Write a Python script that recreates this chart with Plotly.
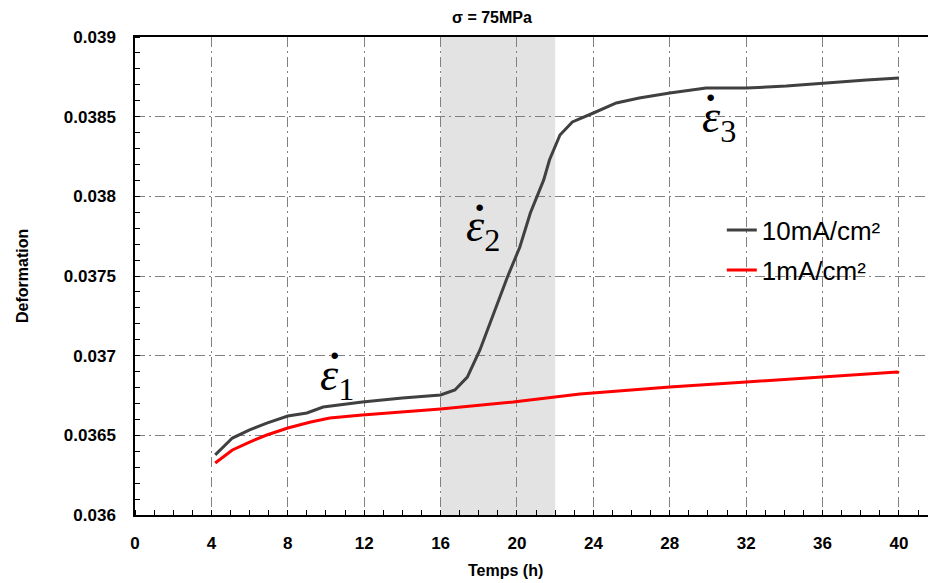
import plotly.graph_objects as go

# ---- data ----
t_10 = [4.2, 5.1, 6.0, 6.9, 8.0, 9.0, 9.85, 11.9, 14.0, 16.0, 16.75, 17.4, 18.06, 18.5,
        19.5, 20.15, 20.7, 21.4, 21.7, 22.25, 22.9, 24.0, 25.2, 26.4, 28.0, 29.9, 32.0,
        34.1, 36.0, 38.3, 40.0]
d_10 = [0.036377, 0.036483, 0.036534, 0.036577, 0.036621, 0.036640, 0.036678, 0.036709,
        0.036734, 0.036753, 0.036785, 0.036866, 0.037036, 0.037180, 0.037494, 0.037682,
        0.037895, 0.038103, 0.038228, 0.038385, 0.038467, 0.038523, 0.038586, 0.038617,
        0.038649, 0.038680, 0.038680, 0.038692, 0.038711, 0.038730, 0.038743]

t_1 = [4.2, 5.1, 6.0, 6.9, 8.0, 9.2, 10.2, 11.9, 16.0, 19.8, 23.3, 28.0, 32.0, 36.0, 39.9, 40.0]
d_1 = [0.036326, 0.036408, 0.036458, 0.036502, 0.036546, 0.036584, 0.036609, 0.036628,
       0.036665, 0.036709, 0.036759, 0.036803, 0.036835, 0.036866, 0.036898, 0.036892]

series_names = ["10mA/cm²", "1mA/cm²"]
x_ticks = [0, 4, 8, 12, 16, 20, 24, 28, 32, 36, 40]
x_tick_labels = [str(v) for v in x_ticks]
y_ticks = [0.036, 0.0365, 0.037, 0.0375, 0.038, 0.0385, 0.039]
y_tick_labels = ["0.036", "0.0365", "0.037", "0.0375", "0.038", "0.0385", "0.039"]
phase_band = [16, 22]
rate_symbols = ["ε", "ε", "ε"]
rate_subs = ["1", "2", "3"]
rate_x = [10.6, 18.2, 30.6]
rate_y = [0.03686, 0.037795, 0.03848]

fig = go.Figure()
fig.add_trace(go.Scatter(x=t_10, y=d_10, mode="lines", name=series_names[0],
                         line=dict(color="#404040", width=3), legendgroup="a"))
fig.add_trace(go.Scatter(x=t_1, y=d_1, mode="lines", name=series_names[1],
                         line=dict(color="#ff0000", width=3), legendgroup="b"))

fig.add_vrect(x0=phase_band[0], x1=phase_band[1], fillcolor="#e3e3e3", line_width=0,
              layer="below")

dot_xshift = [-3, -3, -9]
for sym, sub, xa, ya, dx in zip(rate_symbols, rate_subs, rate_x, rate_y, dot_xshift):
    fig.add_annotation(x=xa, y=ya, xref="x", yref="y", showarrow=False,
                       text=f"<i>{sym}</i><sub>{sub}</sub>",
                       font=dict(family="Liberation Serif", size=46, color="black"))
    # time-derivative dot above the epsilon
    fig.add_annotation(x=xa, y=ya, xref="x", yref="y", showarrow=False,
                       xshift=dx, yshift=22, text="·",
                       font=dict(family="Liberation Serif", size=40, color="black",
                                 weight="bold"))

grid_dash = "10px,4px,2px,4px"
tick_font = dict(family="Liberation Sans", size=17, color="black", weight="bold")

fig.update_xaxes(range=[0, 41.52], tickvals=x_ticks, ticktext=x_tick_labels,
                 showline=True, linecolor="black", linewidth=1.5, mirror=True,
                 showgrid=True, gridcolor="#808080", gridwidth=1, griddash=grid_dash,
                 ticks="", tickfont=tick_font, ticklabelstandoff=12, zeroline=False,
                 minor=dict(dtick=1, ticks="inside", ticklen=5, tickcolor="black",
                            showgrid=False))
fig.update_yaxes(range=[0.036, 0.039], tickvals=y_ticks, ticktext=y_tick_labels,
                 showline=True, linecolor="black", linewidth=1.5,
                 showgrid=True, gridcolor="#808080", gridwidth=1, griddash=grid_dash,
                 ticks="", tickfont=tick_font, ticklabelstandoff=14, zeroline=False,
                 minor=dict(dtick=0.0001, ticks="inside", ticklen=5, tickcolor="black",
                            showgrid=False))

PW, PH, L, B = 793, 478, 135, 515  # plot area geometry in px

fig.add_annotation(x=(492 - L) / PW, y=(B - 17) / PH, xref="paper", yref="paper",
                   xanchor="center", yanchor="middle", showarrow=False,
                   text="σ = 75MPa",
                   font=dict(family="Liberation Sans", size=16, color="black", weight="bold"))
fig.add_annotation(x=(505 - L) / PW, y=(B - 570) / PH, xref="paper", yref="paper",
                   xanchor="center", yanchor="middle", showarrow=False, text="Temps (h)",
                   font=dict(family="Liberation Sans", size=16, color="black", weight="bold"))
fig.add_annotation(x=(22 - L) / PW, y=0.5, xref="paper", yref="paper",
                   xanchor="center", yanchor="middle", showarrow=False,
                   text="Deformation", textangle=-90,
                   font=dict(family="Liberation Sans", size=16, color="black", weight="bold"))

fig.update_layout(
    width=928, height=583,
    margin=dict(l=L, r=0, t=37, b=68),
    paper_bgcolor="white", plot_bgcolor="white",
    showlegend=True,
    legend=dict(x=0.74, y=0.645, xanchor="left", yanchor="top", bgcolor="rgba(0,0,0,0)",
                font=dict(family="Liberation Sans", size=26, color="black"),
                tracegroupgap=3, itemwidth=30),
    font=dict(family="Liberation Sans", color="black"),
)

fig.write_html("out.html")
